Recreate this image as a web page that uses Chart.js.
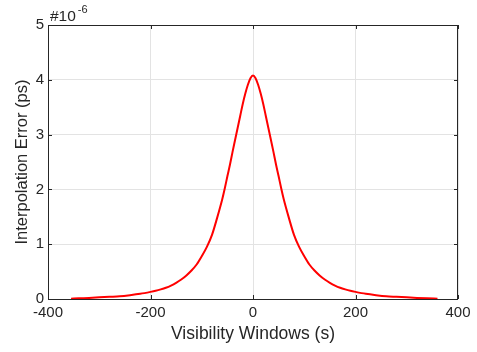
<!DOCTYPE html>
<html>
<head>
<meta charset="utf-8">
<script src="https://cdn.jsdelivr.net/npm/chart.js@4"></script>
<style>
  html, body { margin: 0; padding: 0; background: #fff; }
  #wrap { width: 477px; height: 352px; position: relative; }
</style>
</head>
<body>
<div id="wrap"><canvas id="errChart"></canvas></div>
<script>
// visibility window offset (s)
const windowSec = [-355, -340, -320, -300, -280, -260, -240, -220, -200, -190, -180, -170, -160, -150, -140, -130, -120, -110, -100, -90, -80, -70, -60, -55, -50, -45, -40, -35, -30, -25, -20, -15, -10, -5, 0,
  5, 10, 15, 20, 25, 30, 35, 40, 45, 50, 55, 60, 70, 80, 90, 100, 110, 120, 130, 140, 150, 160, 170, 180, 190, 200, 220, 240, 260, 280, 300, 320, 340, 360];
// interpolation error, units of 1e-6 ps
const errPs = [0.005, 0.012, 0.02, 0.03, 0.04, 0.05, 0.07, 0.095, 0.13, 0.15, 0.175, 0.205, 0.245, 0.295, 0.355, 0.43, 0.52, 0.63, 0.78, 0.95, 1.17, 1.48, 1.82, 2.02, 2.24, 2.45, 2.68, 2.9, 3.12, 3.34, 3.56, 3.75, 3.91, 4.03, 4.08,
  4.03, 3.91, 3.75, 3.56, 3.34, 3.12, 2.9, 2.68, 2.45, 2.24, 2.02, 1.82, 1.48, 1.17, 0.95, 0.78, 0.63, 0.52, 0.43, 0.355, 0.295, 0.245, 0.205, 0.175, 0.15, 0.13, 0.095, 0.07, 0.05, 0.04, 0.03, 0.02, 0.012, 0.006];
const xTicks = [-400, -200, 0, 200, 400];
const yTicks = [0, 1, 2, 3, 4, 5];

const txtColor = "#262626";
const fontFam = "'Liberation Sans', Arial, sans-serif";

// matlab style box, inner ticks and the exponent label
const matlabBox = {
  id: "matlabBox",
  afterDraw(chart) {
    const { ctx, chartArea: a, scales } = chart;
    ctx.save();
    ctx.strokeStyle = txtColor;
    ctx.lineWidth = 1;
    ctx.beginPath();
    ctx.rect(a.left + 0.5, a.top + 0.5, a.right - a.left - 1, a.bottom - a.top);
    xTicks.forEach((v) => {
      const px = Math.round(scales.x.getPixelForValue(v)) + 0.5;
      ctx.moveTo(px, a.bottom); ctx.lineTo(px, a.bottom - 4);
      ctx.moveTo(px, a.top); ctx.lineTo(px, a.top + 4);
    });
    yTicks.forEach((v) => {
      const py = Math.round(scales.y.getPixelForValue(v)) + 0.5;
      ctx.moveTo(a.left, py); ctx.lineTo(a.left + 4, py);
      ctx.moveTo(a.right, py); ctx.lineTo(a.right - 4, py);
    });
    ctx.stroke();

    ctx.fillStyle = txtColor;
    ctx.textBaseline = "alphabetic";
    ctx.font = "15.5px " + fontFam;
    ctx.fillText("#10", 50, 21);
    const w = ctx.measureText("#10").width;
    ctx.font = "11px " + fontFam;
    ctx.fillText("-6", 50 + w + 2, 13);
    ctx.restore();
  },
};

const ctx = document.getElementById("errChart").getContext("2d");
const chart = new Chart(ctx, {
  type: "line",
  data: {
    datasets: [
      {
        label: "Interpolation Error",
        data: windowSec.map((x, i) => ({ x: x, y: errPs[i] })),
        borderColor: "#ff0000",
        borderWidth: 2,
        pointRadius: 0,
        cubicInterpolationMode: "monotone",
        fill: false,
      },
    ],
  },
  options: {
    responsive: true,
    maintainAspectRatio: false,
    animation: false,
    layout: { padding: { top: 25, right: 19, bottom: 0, left: 0 } },
    plugins: { legend: { display: false }, tooltip: { enabled: false } },
    scales: {
      x: {
        type: "linear",
        min: -400,
        max: 400,
        afterBuildTicks: (s) => { s.ticks = xTicks.map((v) => ({ value: v })); },
        afterFit: (s) => { s.height = 53; },
        grid: { color: "#e3e3e3", drawTicks: false },
        border: { display: false },
        ticks: { color: txtColor, font: { size: 15, family: fontFam }, padding: 5, maxRotation: 0 },
        title: { display: true, text: "Visibility Windows (s)", color: txtColor, font: { size: 17.5, family: fontFam }, padding: { top: 0, bottom: 7 } },
      },
      y: {
        min: 0,
        max: 5,
        afterBuildTicks: (s) => { s.ticks = yTicks.map((v) => ({ value: v })); },
        afterFit: (s) => { s.width = 48; },
        grid: { color: "#e3e3e3", drawTicks: false },
        border: { display: false },
        ticks: { color: txtColor, font: { size: 15, family: fontFam }, padding: 4 },
        title: { display: true, text: "Interpolation Error (ps)", color: txtColor, font: { size: 16.5, family: fontFam }, padding: { top: 13, bottom: 0 } },
      },
    },
  },
  plugins: [matlabBox],
});
</script>
</body>
</html>
